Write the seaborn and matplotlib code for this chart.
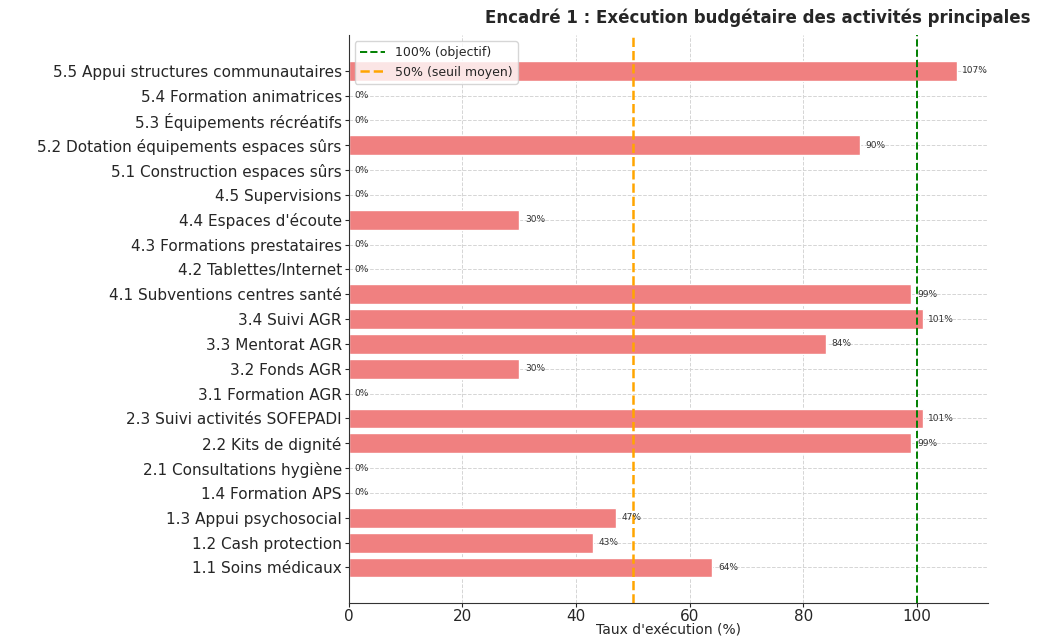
import pandas as pd
import numpy as np
import matplotlib
matplotlib.use('Agg')
import matplotlib.pyplot as plt
import seaborn as sns

activites = ['5.5 Appui structures communautaires', '5.4 Formation animatrices',
             '5.3 Équipements récréatifs', '5.2 Dotation équipements espaces sûrs',
             '5.1 Construction espaces sûrs', '4.5 Supervisions', "4.4 Espaces d'écoute",
             '4.3 Formations prestataires', '4.2 Tablettes/Internet',
             '4.1 Subventions centres santé', '3.4 Suivi AGR', '3.3 Mentorat AGR',
             '3.2 Fonds AGR', '3.1 Formation AGR', '2.3 Suivi activités SOFEPADI',
             '2.2 Kits de dignité', '2.1 Consultations hygiène', '1.4 Formation APS',
             '1.3 Appui psychosocial', '1.2 Cash protection', '1.1 Soins médicaux']
taux = [107, 0, 0, 90, 0, 0, 30, 0, 0, 99, 101, 84, 30, 0, 101, 99, 0, 0, 47, 43, 64]

df = pd.DataFrame({'activite': activites, 'taux': taux})

sns.set_style('white')
plt.rcParams['font.family'] = ['DejaVu Sans']

fig, ax = plt.subplots(figsize=(10.41, 6.37), dpi=100)
fig.subplots_adjust(left=0.335, right=0.949, top=0.945, bottom=0.053)

sns.barplot(data=df, y='activite', x='taux', color='#F08080', saturation=1,
            width=0.8, ax=ax, orient='h')

for i, v in enumerate(df['taux']):
    ax.text(v + 1, i, f'{v}%', va='center', ha='left', fontsize=6.5, color='#333333')

ax.axvline(100, color='green', linestyle='--', linewidth=1.4, label='100% (objectif)')
ax.axvline(50, color='orange', linestyle='--', linewidth=1.8, label='50% (seuil moyen)')

n = len(activites)
ax.set_ylim(n - 1 + 1.44, -1.44)
ax.set_xlim(0, 112.5)
ax.set_xticks([0, 20, 40, 60, 80, 100])
ax.grid(True, linestyle='--', color='#d5d5d5', linewidth=0.7)
ax.set_axisbelow(True)
sns.despine(ax=ax)
ax.spines['left'].set_color('#333333')
ax.spines['bottom'].set_color('#333333')
ax.tick_params(axis='y', labelsize=11, left=True, length=3, pad=2)
ax.tick_params(axis='x', labelsize=11, bottom=True, length=3, pad=1)
ax.set_ylabel('')
ax.set_xlabel("Taux d'exécution (%)", fontsize=10, labelpad=0)
ax.set_title('Encadré 1 : Exécution budgétaire des activités principales',
             fontsize=12, fontweight='bold', x=0.64, pad=9)
ax.legend(loc='upper left', fontsize=9, framealpha=0.8)

fig.savefig('out.png', dpi=100)
